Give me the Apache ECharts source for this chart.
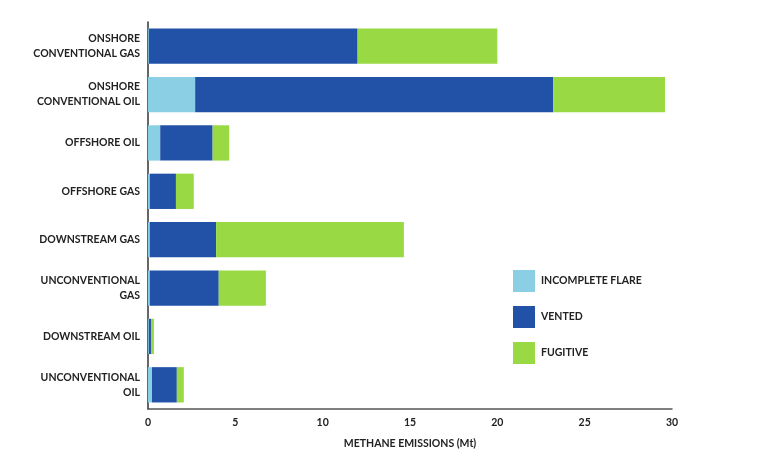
<!DOCTYPE html>
<html><head><meta charset="utf-8">
<script src="https://cdn.jsdelivr.net/npm/echarts@6/dist/echarts.min.js"></script>
<style>html,body{margin:0;padding:0;background:#fff}#c{width:773px;height:458px}</style>
</head><body><div id="c"></div>
<script>
const categories = ["ONSHORE\nCONVENTIONAL GAS","ONSHORE\nCONVENTIONAL OIL","OFFSHORE OIL","OFFSHORE GAS","DOWNSTREAM GAS","UNCONVENTIONAL\nGAS","DOWNSTREAM OIL","UNCONVENTIONAL\nOIL"];
const incompleteFlare = [0.05, 2.7, 0.7, 0.1, 0.1, 0.1, 0.05, 0.23];
const vented = [11.95, 20.5, 3.0, 1.5, 3.8, 3.95, 0.12, 1.42];
const fugitive = [8.0, 6.4, 0.95, 1.02, 10.75, 2.7, 0.17, 0.4];
const xTicks = [0,5,10,15,20,25,30];
const font = "Lato";
const chart = echarts.init(document.getElementById('c'));
function s(name, data, color){
  return {name, type:'bar', stack:'t', data, barCategoryGap:'27%', itemStyle:{color}, emphasis:{disabled:true}};
}
chart.setOption({
  animation:false,
  textStyle:{fontFamily:font},
  grid:{left:148, right:101, top:22, bottom:49, containLabel:false},
  legend:{orient:'vertical', left:508, top:265, itemWidth:22, itemHeight:22, itemGap:14,
    icon:'rect', textStyle:{fontFamily:font, fontWeight:'bold', fontSize:10.5, color:'#222', padding:[0,0,0,1]},
    data:['INCOMPLETE FLARE','VENTED','FUGITIVE']},
  xAxis:{type:'value', min:0, max:30, interval:5,
    name:'METHANE EMISSIONS (Mt)', nameLocation:'middle', nameGap:29,
    nameTextStyle:{fontFamily:font, fontWeight:'bold', fontSize:10.5, color:'#222'},
    axisLine:{show:true, lineStyle:{color:'#555', width:1.5}},
    axisTick:{show:false}, splitLine:{show:false},
    axisLabel:{fontFamily:font, fontWeight:'bold', fontSize:10.5, color:'#222', margin:8,
      formatter:v=>xTicks.includes(v)?String(v):''}},
  yAxis:{type:'category', data:categories, inverse:true,
    axisLine:{show:true, lineStyle:{color:'#333', width:1.5}},
    axisTick:{show:false},
    axisLabel:{fontFamily:font, fontWeight:'bold', fontSize:10.5, color:'#222', margin:8, lineHeight:15, align:'right'}},
  series:[s('INCOMPLETE FLARE', incompleteFlare, '#8ACFE4'), s('VENTED', vented, '#2252A8'), s('FUGITIVE', fugitive, '#98D944')]
});
</script></body></html>
